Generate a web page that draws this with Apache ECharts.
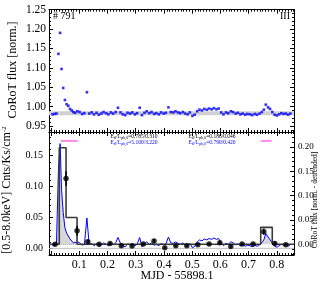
<!DOCTYPE html>
<html><head><meta charset="utf-8">
<script src="https://cdn.jsdelivr.net/npm/echarts@6/dist/echarts.min.js"></script>
<style>html,body{margin:0;padding:0;background:#fff}#c{width:327px;height:290px}</style>
</head><body><div id="c"></div>
<script>
// ---------------- data ----------------
const corotTime = [0.005,0.012,0.019,0.026,0.032,0.037,0.043,0.049,0.055,0.061,0.067,0.073,0.079,
  0.085,0.093,0.101,0.110,0.118,0.127,0.135,0.144,0.152,0.161,0.169,0.178,0.186,0.195,0.203,0.212,
  0.220,0.229,0.237,0.246,0.254,0.263,0.271,0.280,0.288,0.297,0.305,0.314,0.322,0.331,0.339,0.348,
  0.356,0.365,0.373,0.382,0.390,0.399,0.407,0.416,0.424,0.433,0.441,0.450,0.458,0.467,0.475,0.484,
  0.492,0.501,0.509,0.518,0.526,0.535,0.543,0.552,0.560,0.569,0.577,0.586,0.594,0.603,0.611,0.620,
  0.628,0.637,0.645,0.654,0.662,0.671,0.679,0.688,0.696,0.705,0.713,0.722,0.730,0.739,0.747,0.754,
  0.761,0.769,0.776,0.784,0.792,0.800,0.808,0.816,0.824,0.832,0.840,0.848];
const corotFlux = [0.980,0.981,0.982,1.136,1.190,1.097,1.048,1.017,1.006,1.002,0.994,0.990,0.986,
  0.984,0.988,0.986,0.981,0.983,1.037,0.982,0.985,0.980,0.984,0.979,0.982,0.986,0.983,0.980,0.985,
  0.982,0.986,0.997,0.985,0.980,0.978,0.984,0.982,0.985,0.980,0.983,0.997,0.978,0.984,0.988,0.983,
  0.986,0.981,0.983,0.980,0.985,0.982,0.984,0.998,0.986,0.985,0.988,0.985,0.983,0.986,0.982,0.980,
  0.985,0.976,0.979,0.988,0.992,0.990,0.994,0.992,0.995,0.993,0.996,0.993,0.995,0.985,0.980,0.985,
  0.983,0.988,0.986,0.982,0.984,0.980,0.982,0.979,0.981,0.980,0.978,0.981,0.979,0.982,0.986,0.992,
  1.005,0.998,0.994,0.986,0.979,0.977,0.980,0.983,0.981,0.982,0.979,0.982];
const corotBase = 0.983;

const xrayTime = [0.014,0.053,0.092,0.130,0.170,0.209,0.249,0.287,0.327,0.365,0.403,0.442,0.481,
  0.520,0.560,0.598,0.637,0.677,0.716,0.754,0.793,0.832];
const xrayRate = [0.0065,0.113,0.0285,0.0107,0.0065,0.008,0.004,0.0037,0.007,0.012,0.001,0.004,
  0.004,0.006,0.007,0.009,0.003,0.007,0.007,0.027,0.008,0.006];
const xrayErr = [0.002,0.012,0.008,0.003,0.002,0.002,0.002,0.002,0.002,0.003,0.002,0.002,0.002,
  0.002,0.002,0.003,0.002,0.002,0.002,0.005,0.003,0.002];

const blockEdges = [-0.0074,0.029,0.053,0.092,0.743,0.784,0.861];
const blockLevels = [0.0065,0.163,0.050,0.0065,0.034,0.0065];
const quiescentLevel = 0.0065;
const flareFill = [[0.019,0.094],[0.741,0.786]];
const flareBars = [[0.034,0.094],[0.743,0.782]];
const flareBarLevel = 0.174;

const xTickLabels = [0.1,0.2,0.3,0.4,0.5,0.6,0.7,0.8];
const xMajorTicks = [0.0,0.1,0.2,0.3,0.4,0.5,0.6,0.7,0.8];
const topYTicks = [0.95,1.00,1.05,1.10,1.15,1.20,1.25];
const botLeftTicks = [0.00,0.05,0.10,0.15];
const botRightTicks = [0.00,0.05,0.10,0.15,0.20];

const annotations = [
  {val:'=0.785/0.310', color:'#000'}, {val:'=5.100/3.220', color:'#0000ff'},
  {val:'=0.186/0.046', color:'#000'}, {val:'=0.790/0.420', color:'#0000ff'}
];

// --------------- chart -----------------
const XMIN = -0.0074, XMAX = 0.861;
const FONT = 'Liberation Serif';
function range(a,b,s){const o=[];for(let v=a;v<=b+1e-9;v+=s)o.push(+v.toFixed(4));return o;}
const xMinor = range(0,0.86,0.01);
const topMinor = range(0.94,1.25,0.01);
const blMinor = range(-0.01,0.18,0.01);
const brMinor = range(-0.02,0.23,0.01);

function ax(grid, pos, min, max, ticks, len, line, label){
  return {
    type:'value', gridIndex:grid, position:pos, min:min, max:max, scale:true,
    axisLine:{show:line, onZero:false, lineStyle:{color:'#000',width:1}},
    axisTick:{show:true, inside:true, length:len, customValues:ticks, lineStyle:{color:'#000',width:1}},
    axisLabel: label ? label : {show:false},
    splitLine:{show:false}, minorTick:{show:false}
  };
}
const xLab = {show:true, customValues:xTickLabels, formatter:v=>v.toFixed(1), fontFamily:FONT, fontSize:12, color:'#000', margin:4};
const topYLab = {show:true, customValues:topYTicks, formatter:v=>v.toFixed(2), fontFamily:FONT, fontSize:11.5, color:'#000', margin:3};
const blLab = {show:true, customValues:botLeftTicks, formatter:v=>v.toFixed(2), fontFamily:FONT, fontSize:10, color:'#000', margin:6};
const brLab = {show:true, customValues:botRightTicks, formatter:v=>v.toFixed(2), fontFamily:FONT, fontSize:9, color:'#000', margin:4};

const xAxes = [
  ax(0,'bottom',XMIN,XMAX,xMajorTicks,4,true),
  ax(0,'top',XMIN,XMAX,xMajorTicks,4,true),
  ax(0,'bottom',XMIN,XMAX,xMinor,2,false),
  ax(0,'top',XMIN,XMAX,xMinor,2,false),
  ax(1,'bottom',XMIN,XMAX,xMajorTicks,4,true,xLab),
  ax(1,'top',XMIN,XMAX,xMajorTicks,4,true),
  ax(1,'bottom',XMIN,XMAX,xMinor,2,false),
  ax(1,'top',XMIN,XMAX,xMinor,2,false)
];
const T_MIN=0.9345, T_MAX=1.25, BL_MIN=-0.0108, BL_MAX=0.1884, BR_MIN=-0.022, BR_MAX=0.2309;
const yAxes = [
  ax(0,'left',T_MIN,T_MAX,topYTicks,4,true,topYLab),
  ax(0,'right',T_MIN,T_MAX,topYTicks,4,true),
  ax(0,'left',T_MIN,T_MAX,topMinor,2,false),
  ax(0,'right',T_MIN,T_MAX,topMinor,2,false),
  ax(1,'left',BL_MIN,BL_MAX,botLeftTicks,4,true,blLab),
  ax(1,'right',BR_MIN,BR_MAX,botRightTicks,4,true,brLab),
  ax(1,'left',BL_MIN,BL_MAX,blMinor,2,false),
  ax(1,'right',BR_MIN,BR_MAX,brMinor,2,false)
];

const fluxPts = corotTime.map((t,i)=>[t,corotFlux[i]]);
const detr = corotTime.map((t,i)=>[t,+(corotFlux[i]-corotBase).toFixed(4)]);
const histo = [];
blockLevels.forEach((l,i)=>{histo.push([blockEdges[i],l]);histo.push([blockEdges[i+1],l]);});

const series = [
  {type:'line', xAxisIndex:0, yAxisIndex:0, data:[[XMIN,corotBase],[XMAX,corotBase]], symbol:'none', silent:true,
   lineStyle:{color:'#d0d0d0', width:4}, z:1},
  {type:'scatter', xAxisIndex:0, yAxisIndex:0, data:fluxPts, symbol:'rect', symbolSize:2.6,
   itemStyle:{color:'#0000ff'}, z:3},
  {type:'line', xAxisIndex:4, yAxisIndex:4, data:[[XMIN,0],[XMAX,0]], symbol:'none', silent:true,
   lineStyle:{color:'#bdbdbd', width:1}, z:1}
];
flareFill.forEach(iv=>{
  series.push({type:'line', xAxisIndex:4, yAxisIndex:5, data:detr.filter(p=>p[0]>=iv[0]&&p[0]<=iv[1]),
    symbol:'none', lineStyle:{width:0}, areaStyle:{color:'#d8d8d8', opacity:1}, z:1, silent:true});
});
series.push({type:'line', xAxisIndex:4, yAxisIndex:4, data:[[blockEdges[1],quiescentLevel],[blockEdges[3],quiescentLevel]],
  symbol:'none', lineStyle:{color:'#999', width:1, type:'dotted'}, z:2, silent:true});
series.push({type:'line', xAxisIndex:4, yAxisIndex:5, data:detr, symbol:'none',
  lineStyle:{color:'#0000ff', width:1}, z:3, silent:true});
series.push({type:'line', xAxisIndex:4, yAxisIndex:4, data:histo, symbol:'none',
  lineStyle:{color:'#3a3a3a', width:1.6}, z:4, silent:true});
flareBars.forEach(b=>{
  series.push({type:'line', xAxisIndex:4, yAxisIndex:4, data:[[b[0],flareBarLevel],[b[1],flareBarLevel]],
    symbol:'none', lineStyle:{color:'#ff88ee', width:2}, z:4, silent:true});
});
series.push({type:'custom', xAxisIndex:4, yAxisIndex:4,
  data:xrayTime.map((t,i)=>[t,xrayRate[i],xrayErr[i]]),
  renderItem:(params,api)=>{
    const t=api.value(0), v=api.value(1), e=api.value(2);
    const p1=api.coord([t,v-e]), p2=api.coord([t,v+e]);
    return {type:'line', shape:{x1:p1[0],y1:p1[1],x2:p2[0],y2:p2[1]}, style:{stroke:'#000',lineWidth:1.5}};
  }, z:5, silent:true});
series.push({type:'scatter', xAxisIndex:4, yAxisIndex:4, data:xrayTime.map((t,i)=>[t,xrayRate[i]]),
  symbol:'circle', symbolSize:5.5, itemStyle:{color:'#000'}, z:6});

const graphics = [
  {type:'text', x:13, y:70, rotation:Math.PI/2, style:{text:'CoRoT flux [norm.]', font:'12px "Liberation Serif"', fill:'#000', textAlign:'center', textVerticalAlign:'middle'}},
  {type:'text', x:6.5, y:190, rotation:Math.PI/2, style:{text:'[0.5-8.0keV] Cnts/Ks/cm{s|-2}', font:'12px "Liberation Serif"', fill:'#000', textAlign:'center', textVerticalAlign:'middle',
     rich:{s:{fontSize:7, fontFamily:FONT, verticalAlign:'top', fill:'#000'}}}},
  {type:'text', x:315, y:200, rotation:Math.PI/2, style:{text:'CoRoT flux [norm. - detrended]', font:'7.5px "Liberation Serif"', fill:'#000', textAlign:'center', textVerticalAlign:'middle'}},
  {type:'text', x:177, y:276, style:{text:'MJD - 55898.1', font:'12px "Liberation Serif"', fill:'#000', textAlign:'center', textVerticalAlign:'middle'}},
  {type:'text', x:53, y:16, style:{text:'# 791', font:'10px "Liberation Serif"', fill:'#000', textAlign:'left', textVerticalAlign:'middle'}},
  {type:'text', x:290, y:16, style:{text:'III', font:'10px "Liberation Serif"', fill:'#000', textAlign:'right', textVerticalAlign:'middle'}}
];
const annPos = [[110.5,136.5],[110.5,142.5],[188.5,136.5],[188.5,142.5]];
annotations.forEach((a,i)=>{
  graphics.push({type:'text', x:annPos[i][0], y:annPos[i][1], style:{
    text:'{n|E}{s|fl}{n|/L}{s|ph,0}{n|'+a.val+'}', fill:a.color, textAlign:'left', textVerticalAlign:'middle',
    rich:{n:{fontSize:5.5, fontFamily:FONT, fill:a.color}, s:{fontSize:4, fontFamily:FONT, fill:a.color, verticalAlign:'bottom'}}}});
});

const chart = echarts.init(document.getElementById('c'), null, {renderer:'canvas'});
chart.setOption({
  animation:false, backgroundColor:'#fff',
  grid:[{left:49,top:9.6,width:245,height:122.4},{left:49,top:132,width:245,height:123}],
  xAxis:xAxes, yAxis:yAxes, series:series, graphic:graphics
});
</script></body></html>
